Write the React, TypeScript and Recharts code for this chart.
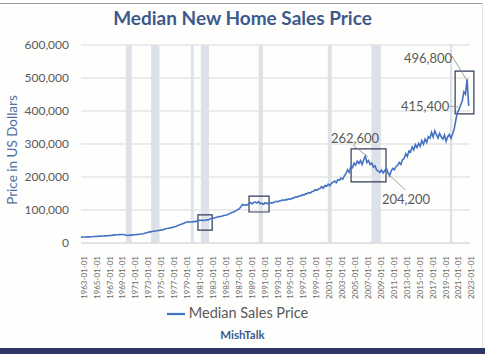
import { LineChart, Line, XAxis, YAxis, CartesianGrid, ReferenceArea, ReferenceLine, ReferenceDot, Legend } from "recharts"

// quarterly samples (Jan, Apr, Jul, Oct)
const prices1960s = [
  17800, 18000, 18100, 18200, 18500, 18700, 18900, 19000, 19600, 19800, 20000, 20300,
  20800, 21200, 21400, 21700, 22000, 22400, 22700, 23100, 24000, 24500, 24800, 25000,
  25300, 25700, 25600, 24800,
]
const prices1970s = [
  23500, 23200, 23400, 23900, 24500, 25000, 25300, 25800, 26500, 27200, 27800, 28600,
  30500, 32000, 32900, 33800, 34800, 35500, 36200, 37000, 38100, 39000, 39600, 40500,
  42500, 43800, 44500, 45500, 46600, 48000, 49500, 51000, 53000, 55000, 56500, 58500,
  60500, 62500, 63500, 64500,
]
const prices1980s = [
  63500, 64000, 65000, 64800, 67500, 68500, 69000, 68800, 68000, 69500, 70500, 70200,
  73500, 75000, 75500, 76500, 78000, 80000, 79500, 81000, 82500, 84000, 85000, 86500,
  89000, 91500, 93000, 95500, 98000, 101000, 104000, 110000, 117000, 114000, 116000, 115500,
  118000, 122000, 119000, 123000,
]
const prices1990s = [
  124000, 121000, 125000, 119000, 121000, 117000, 122000, 119500, 120000, 122500, 121000, 123000,
  124000, 126500, 125000, 128000, 128500, 131000, 129000, 132000, 131500, 134000, 133000, 136000,
  137000, 140500, 139000, 143000, 142500, 146500, 145000, 149000, 149500, 153000, 151500, 156000,
  157000, 161500, 159500, 164000,
]
const prices2000s = [
  165000, 171000, 166000, 174000, 172000, 178000, 173500, 181000, 184000, 188000, 183000, 192000,
  190000, 197000, 193000, 203000, 210000, 222000, 214000, 231000, 228000, 242000, 236000, 248000,
  241000, 250000, 238000, 252000, 262600, 244000, 250000, 238000, 242000, 230000, 234000, 221000,
  218000, 214000, 221000, 212000,
]
const prices2010s = [
  219000, 226000, 214000, 204200, 218000, 226000, 222000, 232000, 235000, 244000, 238000, 252000,
  256000, 270000, 262000, 279000, 276000, 291000, 282000, 298000, 289000, 302000, 293000, 310000,
  299000, 315000, 305000, 322000, 318000, 335000, 321000, 340000, 329000, 318000, 332000, 322000,
  315000, 327000, 308000, 322000,
]
const prices2020s = [329000, 317000, 330000, 345000, 372000, 395000, 404000, 418000, 430000, 458000, 451000, 496800, 415400]

const series = [
  { start: 1963, values: prices1960s },
  { start: 1970, values: prices1970s },
  { start: 1980, values: prices1980s },
  { start: 1990, values: prices1990s },
  { start: 2000, values: prices2000s },
  { start: 2010, values: prices2010s },
  { start: 2020, values: prices2020s },
]

const yearTicks = [
  1963, 1965, 1967, 1969, 1971, 1973, 1975, 1977, 1979, 1981, 1983, 1985, 1987, 1989, 1991,
  1993, 1995, 1997, 1999, 2001, 2003, 2005, 2007, 2009, 2011, 2013, 2015, 2017, 2019, 2021, 2023,
]
const priceTicks = [0, 100000, 200000, 300000, 400000, 500000, 600000]

// recessions [start, end] in decimal years
const recessions = [
  [1969.95, 1970.85],
  [1973.85, 1975.15],
  [1980.0, 1980.45],
  [1981.55, 1982.8],
  [1990.5, 1991.15],
  [2001.2, 2001.8],
  [2007.95, 2009.4],
  [2020.1, 2020.45],
]

// highlight boxes [x1, x2, y1, y2]
const boxes = [
  [1981.1, 1983.3, 39000, 85000],
  [1989.0, 1992.1, 94000, 142000],
  [2004.8, 2010.2, 185000, 285000],
  [2020.9, 2023.8, 391000, 521000],
]

const callouts = [
  { text: "262,600", x: 2005.4, y: 318000, from: [2005.1, 297000], to: [2007.4, 261000] },
  { text: "204,200", x: 2013.3, y: 133000, from: [2013.2, 161000], to: [2010.2, 215000] },
  { text: "496,800", x: 2016.7, y: 558000, from: [2020.4, 567000], to: [2022.6, 497000] },
  { text: "415,400", x: 2016.25, y: 415000, from: [2019.95, 415000], to: [2021.4, 412000] },
]

const data = series.flatMap((s) => s.values.map((price, i) => ({ t: s.start + i / 4, price })))

const font = "Lato, 'Open Sans', sans-serif"
const gray = "#595959"
const navy = "#2f3b5a"

export default function App() {
  return (
    <div style={{ position: "absolute", left: 0, top: 0, width: 485, height: 354, background: "#fefefc", fontFamily: font, overflow: "hidden" }}>
      <div style={{ position: "absolute", left: 0, top: 3, width: 483, height: 1, background: "#9a9a9a" }} />
      <div style={{ position: "absolute", left: 482, top: 3, width: 1, height: 345, background: "#e4e4e4" }} />
      <div style={{ position: "absolute", left: 0, top: 348, width: 485, height: 6, background: "#2e3466" }} />
      <div style={{ position: "absolute", left: 0, top: 6, width: 485, textAlign: "center", fontSize: 19, fontWeight: 700, color: "#3d5a8c" }}>
        Median New Home Sales Price
      </div>
      <div style={{ position: "absolute", left: 12, top: 150, transform: "translate(-50%, -50%) rotate(-90deg)", whiteSpace: "nowrap", fontSize: 13.5, color: "#4f6fa5" }}>
        Price in US Dollars
      </div>
      <div style={{ position: "absolute", left: 0, top: 328, width: 485, textAlign: "center", fontSize: 11.5, fontWeight: 700, color: "#3d5a8c" }}>
        MishTalk
      </div>
      <LineChart width={485} height={354} data={data} margin={{ top: 45, right: 15, left: 0, bottom: 55 }} style={{ position: "absolute", left: 0, top: 0 }}>
        <CartesianGrid vertical={false} stroke="#d9d9d9" />
        {recessions.map(([a, b], i) => (
          <ReferenceArea key={"r" + i} x1={a} x2={b} fill="#dde1e9" fillOpacity={1} stroke="none" />
        ))}
        <XAxis
          dataKey="t"
          type="number"
          domain={[1963, 2023.2]}
          ticks={yearTicks}
          interval={0}
          allowDataOverflow
          tickFormatter={(y) => `${y}-01-01`}
          tickLine={false}
          axisLine={{ stroke: "#d9d9d9" }}
          tickMargin={4}
          angle={-90}
          textAnchor="end"
          height={56}
          tick={{ fill: "#6a6a6a", fontSize: 8, fontFamily: font, dy: 3 }}
        />
        <YAxis
          width={81}
          domain={[0, 600000]}
          ticks={priceTicks}
          tickFormatter={(v) => v.toLocaleString("en-US")}
          tickLine={false}
          axisLine={false}
          tickMargin={6}
          tick={{ fill: gray, fontSize: 12, fontFamily: font }}
        />
        <Line dataKey="price" name="Median Sales Price" stroke="#4472c4" strokeWidth={1.6} dot={false} isAnimationActive={false} />
        {boxes.map(([x1, x2, y1, y2], i) => (
          <ReferenceArea key={"b" + i} x1={x1} x2={x2} y1={y1} y2={y2} fill="none" stroke={navy} strokeWidth={1.2} ifOverflow="visible" />
        ))}
        {callouts.map((c) => (
          <ReferenceLine
            key={"l" + c.text}
            segment={[
              { x: c.from[0], y: c.from[1] },
              { x: c.to[0], y: c.to[1] },
            ]}
            stroke="#8c8c8c"
            strokeWidth={0.8}
            ifOverflow="visible"
          />
        ))}
        {callouts.map((c) => (
          <ReferenceDot
            key={"d" + c.text}
            x={c.x}
            y={c.y}
            r={0}
            stroke="none"
            ifOverflow="visible"
            label={{ value: c.text, position: "center", fill: gray, fontSize: 13, fontFamily: font }}
          />
        ))}
        <Legend
          layout="horizontal"
          verticalAlign="middle"
          align="center"
          iconType="plainline"
          iconSize={18}
          wrapperStyle={{ top: 304, left: 0, width: 485, fontSize: 14.5, fontFamily: font }}
          formatter={(v) => <span style={{ color: gray }}>{v}</span>}
        />
      </LineChart>
    </div>
  )
}
